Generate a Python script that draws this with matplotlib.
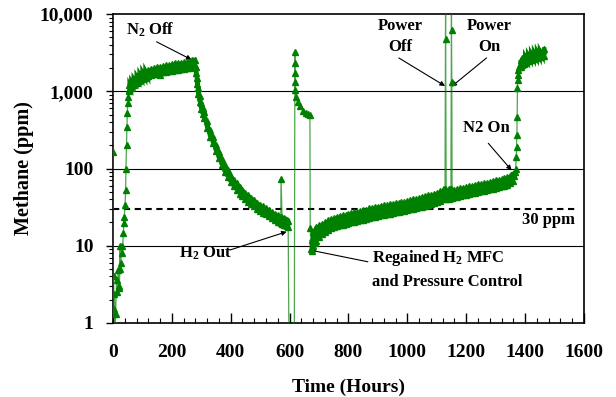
import matplotlib
matplotlib.use("Agg")
import matplotlib.pyplot as plt
from matplotlib.ticker import FixedLocator, FixedFormatter, MultipleLocator, NullFormatter
import numpy as np

plt.rcParams['font.family'] = ['Liberation Serif', 'DejaVu Serif']
plt.rcParams['font.weight'] = 'bold'
plt.rcParams['mathtext.fontset'] = 'custom'
plt.rcParams['mathtext.rm'] = 'Liberation Serif:bold'
plt.rcParams['mathtext.it'] = 'Liberation Serif:bold'
plt.rcParams['mathtext.bf'] = 'Liberation Serif:bold'

# start-up readings (hours, ppm)
t_start = [0, 0, 1, 2, 3, 5, 7, 9, 12, 15, 18, 20, 22, 24, 25, 27, 29, 32, 35, 37, 38,
           41, 43, 44, 46, 47.5, 48.6, 50, 52, 54]
ch4_start = [20000, 165, 1.3, 4.0, 1.5, 2.4, 0.8, 1.3, 3.6, 2.5, 4.9, 3.0, 2.8, 10, 5, 6, 10,
             8, 14.5, 19.5, 23.7, 33.7, 52.6, 100, 202, 349, 518, 700, 850, 1050]

# plateau with N2 on (low / high edge of the noisy band)
t_flat = [56, 62, 70, 80, 90, 100, 110, 120, 130, 140, 150, 160, 170, 180, 190, 200,
          210, 220, 230, 240, 250, 260, 270, 278]
lo_flat = [1000, 1100, 1200, 1290, 1370, 1440, 1500, 1560, 1600, 1650, 1680, 1600, 1750,
           1780, 1810, 1840, 1870, 1900, 1930, 1950, 1980, 2020, 2050, 2090]
hi_flat = [1210, 1340, 1460, 1570, 1670, 1760, 1840, 1900, 1960, 2010, 2060, 2090, 2130,
           2180, 2210, 2240, 2290, 2320, 2350, 2390, 2420, 2460, 2510, 2550]

# decay after N2 off
t_decay = [282, 286, 290, 295, 300, 305, 310, 320, 330, 340, 350, 360, 370, 380, 390, 400,
           410, 420, 430, 440, 450, 460, 470, 480, 490, 500, 510, 520, 530, 540, 550, 560, 570]
lo_decay = [1730, 1230, 910, 730, 590, 510, 445, 336, 259, 214, 168, 136, 111, 91, 78, 67,
            59, 53, 47, 44, 40, 37, 34.5, 32.3, 30, 28.2, 26.8, 25.5, 24.1, 22.7, 21.4, 20.5, 19.5]
hi_decay = [2090, 1490, 1100, 880, 715, 615, 540, 407, 314, 259, 204, 165, 134, 110, 95, 81,
            72, 64, 57, 53, 48, 45, 42, 39, 36.3, 34, 32.5, 30.8, 29.2, 27.5, 25.9, 24.8, 23.7]

t_spike = [571]
ch4_spike = [74]

t_decay2 = [575, 580, 585, 590, 595]
lo_decay2 = [19.2, 18.8, 18.3, 17.8, 17.5]
hi_decay2 = [23.2, 22.6, 22.0, 21.5, 21.0]

# H2 out / regained
t_out = [598, 616, 618, 618, 618, 618, 619, 623, 630, 635, 646, 655, 663, 669, 670, 673]
ch4_out = [0.5, 0.5, 3240, 2330, 1740, 1330, 1040, 850, 720, 650, 560, 530, 510, 490, 17, 9]

# recovery
t_recov = [675, 680, 685, 690, 700, 710, 720, 730, 740, 750, 760, 770, 780, 790, 800, 810,
           820, 830, 840, 850, 860, 870, 880, 890, 900, 910, 920, 930, 940, 950, 960, 970,
           980, 990, 1000, 1010, 1020, 1030, 1040, 1050, 1060, 1070, 1080, 1090, 1100, 1110,
           1120, 1128]
lo_recov = [8.5, 10, 10.8, 11.5, 13, 14.2, 15.2, 16, 17, 17.4, 17.8, 18.3, 18.7, 19.1, 19.6,
            20, 20.4, 20.9, 21.3, 21.7, 22.2, 23, 23.5, 23.9, 24.3, 24.8, 25.2, 25.7, 26.1,
            26.5, 27, 27.4, 27.8, 28.3, 28.7, 29.6, 30, 30.4, 31.3, 32.2, 33, 33.9, 34.8,
            35.7, 37, 38.3, 40, 41]
hi_recov = [12, 15, 16.5, 17.5, 18.5, 19.2, 20.1, 21.3, 22.4, 23, 23.6, 24.2, 24.7, 25.3,
            25.9, 26.5, 27, 27.6, 28.2, 28.8, 29.3, 30.5, 31, 31.6, 32.2, 32.8, 33.4, 33.9,
            34.5, 35.1, 35.7, 36.2, 36.8, 37.4, 38, 39.1, 39.7, 40.3, 41.4, 42.6, 43.7, 44.9,
            46, 47.2, 48.9, 50.6, 53, 55]

# power off / power on
t_poff = [1130, 1130]
ch4_poff = [20000, 4700]
t_mid = [1132, 1140, 1148]
lo_mid = [40, 40, 41]
hi_mid = [53, 54, 55]
t_pon = [1150, 1150, 1151]
ch4_pon = [20000, 6200, 1330]

t_late = [1152, 1160, 1170, 1180, 1190, 1200, 1210, 1220, 1230, 1240, 1250, 1260, 1270,
          1280, 1290, 1300, 1310, 1320, 1330, 1340, 1350, 1358]
lo_late = [42, 42.4, 43.3, 44.2, 45.1, 46, 46.9, 47.8, 48.7, 49.6, 50.4, 51.3, 52.2, 53.6,
           54.5, 55.8, 57.1, 58.5, 59.8, 61.6, 64.3, 67.9]
hi_late = [52.6, 53.2, 54.3, 55.4, 56.6, 57.7, 58.8, 59.9, 61, 62.2, 63.3, 64.4, 65.5, 67.2,
           68.3, 70, 71.7, 73.4, 75, 77.3, 80.6, 85]

# N2 back on
t_n2on = [1362, 1365, 1368, 1370, 1371, 1372, 1373, 1374, 1375, 1376, 1377, 1379, 1382]
ch4_n2on = [80, 90, 100, 142, 191, 270, 464, 1090, 1400, 1630, 1890, 2050, 2200]

t_end = [1385, 1390, 1395, 1400, 1410, 1420, 1430, 1440, 1450, 1460, 1465]
lo_end = [2090, 2200, 2270, 2350, 2450, 2550, 2620, 2690, 2760, 2840, 2890]
hi_end = [2530, 2660, 2750, 2840, 2970, 3080, 3170, 3260, 3340, 3430, 3500]

limit_ppm = 30

y_ticks = [1, 10, 100, 1000, 10000]
y_labels = ['1', '10', '100', '1,000', '10,000']


def band(t, lo, hi):
    tt = np.repeat(t, 2)
    vv = np.column_stack([lo, hi]).ravel()
    return list(tt), list(vv)


bands = [
    band(t_flat, lo_flat, hi_flat),
    band(t_decay, lo_decay, hi_decay),
    band(t_decay2, lo_decay2, hi_decay2),
    band(t_recov, lo_recov, hi_recov),
    band(t_mid, lo_mid, hi_mid),
    band(t_late, lo_late, hi_late),
    band(t_end, lo_end, hi_end),
]
parts = [
    (t_start, ch4_start),
    bands[0],
    bands[1],
    (t_spike, ch4_spike),
    bands[2],
    (t_out, ch4_out),
    bands[3],
    (t_poff, ch4_poff),
    bands[4],
    (t_pon, ch4_pon),
    bands[5],
    (t_n2on, ch4_n2on),
    bands[6],
]
t_all = np.concatenate([np.asarray(p[0], float) for p in parts])
v_all = np.concatenate([np.asarray(p[1], float) for p in parts])

fig = plt.figure(figsize=(6.16, 3.97), dpi=100)
ax = fig.add_axes([0.1834, 0.1864, 0.948 - 0.1834, 0.9647 - 0.1864])

green = '#008000'
ax.plot(t_all, v_all, color=green, lw=0.9, alpha=0.7, zorder=3)
# the noisy stretches read as a solid band
for bt, bv in bands:
    ax.plot(bt, bv, color=green, lw=3.0, solid_joinstyle='miter', zorder=3)
ax.plot(t_all, v_all, ls='none', marker='^', ms=4.8, color=green, mec=green, zorder=4)

ax.set_yscale('log')
ax.set_xlim(0, 1600)
ax.set_ylim(1, 10000)

for g in [10, 100, 1000]:
    ax.axhline(g, color='black', lw=0.8, zorder=1)
ax.plot([0, 1576], [limit_ppm, limit_ppm], color='black', lw=1.5,
        ls=(0, (3, 2.2)), zorder=2)

ax.yaxis.set_major_locator(FixedLocator(y_ticks))
ax.yaxis.set_major_formatter(FixedFormatter(y_labels))
ax.yaxis.set_minor_formatter(NullFormatter())
ax.xaxis.set_major_locator(MultipleLocator(200))
ax.xaxis.set_minor_locator(MultipleLocator(40))

ax.tick_params(axis='y', which='major', direction='out', length=5, width=1, pad=9, labelsize=14)
ax.tick_params(axis='y', which='minor', direction='out', length=3, width=0.8)
ax.tick_params(axis='x', which='major', direction='in', length=7, width=1, pad=15, labelsize=14)
ax.tick_params(axis='x', which='minor', direction='in', length=3.5, width=0.8)
for lab in ax.get_xticklabels() + ax.get_yticklabels():
    lab.set_fontweight('bold')

for s in ax.spines.values():
    s.set_linewidth(1.2)
    s.set_color('black')
ax.spines['left'].set_zorder(2)

ax.set_xlabel('Time (Hours)', fontsize=14, fontweight='bold', labelpad=13)
ax.set_ylabel('Methane (ppm)', fontsize=14.5, fontweight='bold', labelpad=4)

arrow = dict(arrowstyle='-|>', color='black', lw=0.8, mutation_scale=7, shrinkA=0, shrinkB=0)
fs = 12

ax.text(126, 6200, 'N$_2$ Off', fontsize=fs, fontweight='bold', ha='center', va='center')
ax.annotate('', xy=(267, 2560), xytext=(148, 4370), arrowprops=arrow)

ax.text(313, 8.1, 'H$_2$ Out', fontsize=fs, fontweight='bold', ha='center', va='center')
ax.annotate('', xy=(590, 15.2), xytext=(397, 8.8), arrowprops=arrow)

ax.text(880, 5.0, 'Regained H$_2$ MFC\nand Pressure Control', fontsize=fs, fontweight='bold',
        ha='left', va='center', linespacing=1.45)
ax.annotate('', xy=(669, 8.8), xytext=(866, 6.2), arrowprops=arrow)

ax.text(1569, 21.5, '30 ppm', fontsize=fs, fontweight='bold', ha='right', va='center')

ax.text(975, 5100, 'Power\nOff', fontsize=fs, fontweight='bold', ha='center', va='center',
        linespacing=1.45)
ax.annotate('', xy=(1128, 1170), xytext=(971, 2700), arrowprops=arrow)

ax.text(1277, 5100, 'Power\nOn', fontsize=fs, fontweight='bold', ha='center', va='center',
        linespacing=1.45)
ax.annotate('', xy=(1150, 1150), xytext=(1269, 2700), arrowprops=arrow)

ax.text(1267, 335, 'N2 On', fontsize=fs, fontweight='bold', ha='center', va='center')
ax.annotate('', xy=(1354, 95), xytext=(1275, 212), arrowprops=arrow)

fig.savefig('out.png', dpi=100)
